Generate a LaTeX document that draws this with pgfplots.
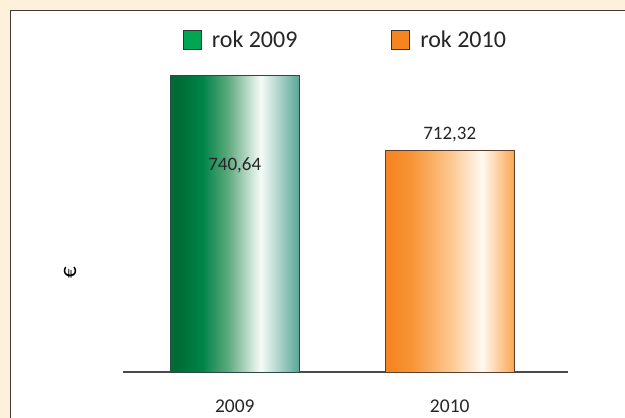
\documentclass[border=0pt]{standalone}
\usepackage{pgfplots}
\pgfplotsset{compat=1.18}
\usepackage{fontspec}
\setmainfont{Carlito}
\definecolor{cream}{HTML}{FEF1DC}
\definecolor{panelgray}{HTML}{3C3C3C}
\definecolor{axisgray}{HTML}{4A4A4A}
\definecolor{gA}{HTML}{006B35}
\definecolor{gB}{HTML}{008448}
\definecolor{gC}{HTML}{5FAA7E}
\definecolor{gD}{HTML}{F6FBF8}
\definecolor{gE}{HTML}{5AA596}
\definecolor{oA}{HTML}{F5821F}
\definecolor{oB}{HTML}{F89434}
\definecolor{oC}{HTML}{FCC68E}
\definecolor{oD}{HTML}{FFF9F2}
\definecolor{oE}{HTML}{FBA650}
\definecolor{legG}{HTML}{00A651}
\definecolor{legO}{HTML}{F7851F}
\definecolor{gEdge}{HTML}{2E4A44}
\definecolor{oEdge}{HTML}{5A4030}
\pgfdeclarehorizontalshading{greenbar}{100bp}{color(0bp)=(gA); color(25bp)=(gA); color(28bp)=(gA); color(37.5bp)=(gB); color(47.5bp)=(gC); color(60bp)=(gD); color(75bp)=(gE); color(100bp)=(gE)}
\pgfdeclarehorizontalshading{orangebar}{100bp}{color(0bp)=(oA); color(25bp)=(oA); color(35bp)=(oB); color(50bp)=(oC); color(62.5bp)=(oD); color(75bp)=(oE); color(100bp)=(oE)}
\begin{document}
\begin{tikzpicture}
\useasboundingbox (0,0) rectangle (625pt,418pt);
\clip (0,0) rectangle (625pt,418pt);
\fill[cream] (0,0) rectangle (625pt,418pt);
\filldraw[fill=white, draw=panelgray, line width=1pt] (10pt,407pt) rectangle (640pt,-10pt);
\begin{axis}[
  at={(123pt,46pt)}, anchor=south west,
  scale only axis, width=445pt, height=321pt,
  xmin=-0.52, xmax=1.55, ymin=628, ymax=750,
  clip=false,
  axis x line*=bottom, axis y line*=left,
  y axis line style={draw=none},
  x axis line style={line width=1.3pt, draw=axisgray, -},
  ytick=\empty,
  xtick={0,1}, xticklabels={2009,2010},
  major tick length=0pt,
  xticklabel style={font=\fontsize{19.5}{22}\selectfont, text=black!85, yshift=-24pt},
  ylabel={€},
  ylabel style={at={(axis description cs:-0.119,0.31)}, anchor=center, font=\fontsize{23}{25}\selectfont},
  /pgf/number format/use comma,
  /pgf/number format/fixed,
  /pgf/number format/precision=2,
  /pgf/number format/fixed zerofill,
  /pgf/number format/assume math mode=true,
  legend columns=2,
  legend style={at={(0.5,1)}, anchor=center, yshift=11pt, draw=none, fill=none,
    font=\fontsize{24}{27}\selectfont, text=black!85,
    /tikz/every odd column/.append style={column sep=8pt},
    /tikz/every even column/.append style={column sep=92pt}},
  legend image code/.code={\draw[#1] (0pt,-9.5pt) rectangle (18pt,9.5pt);},
]
\addlegendimage{fill=legG, draw=black!80, line width=0.8pt}
\addlegendentry{rok 2009}
\addlegendimage{fill=legO, draw=black!80, line width=0.8pt}
\addlegendentry{rok 2010}
\addplot[ybar, bar width=129pt, bar shift=0pt, draw=gEdge, line width=0.8pt,
  shade, shading=greenbar, forget plot,
  nodes near coords,
  nodes near coords style={anchor=center, yshift=-90pt, font=\fontsize{19}{22}\selectfont, text=black!85}]
  coordinates {(0,740.64)};
\addplot[ybar, bar width=129pt, bar shift=0pt, draw=oEdge, line width=0.8pt,
  shade, shading=orangebar, forget plot,
  nodes near coords,
  nodes near coords style={anchor=center, yshift=16pt, font=\fontsize{19}{22}\selectfont, text=black!85}]
  coordinates {(1,712.32)};
\end{axis}
\end{tikzpicture}
\end{document}
